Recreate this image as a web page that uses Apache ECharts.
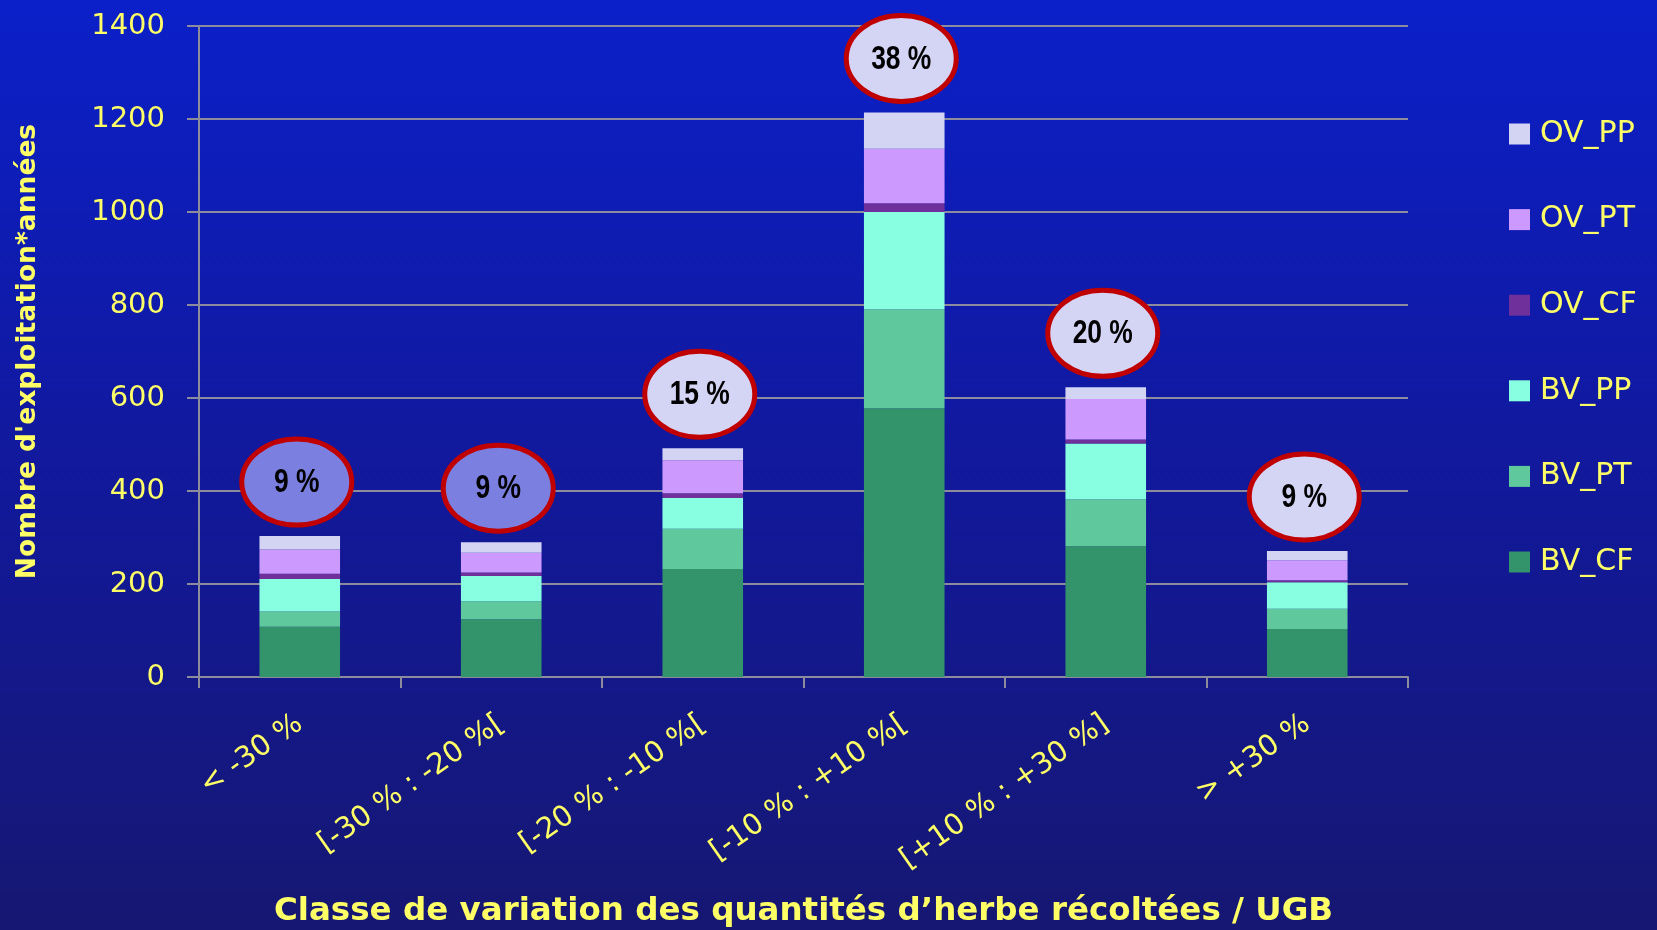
<!DOCTYPE html>
<html>
<head>
<meta charset="utf-8">
<script src="https://cdn.jsdelivr.net/npm/echarts@6/dist/echarts.min.js"></script>
<style>
html,body{margin:0;padding:0;width:1657px;height:930px;overflow:hidden;}
#chart{width:1657px;height:930px;}
</style>
</head>
<body>
<div id="chart"></div>
<script>
// ---- data ----
const categories = ['< -30 %', '[-30 % : -20 %[', '[-20 % : -10 %[', '[-10 % : +10 %[', '[+10 % : +30 %]', '> +30 %'];
const BV_CF = [108, 124, 232, 578, 281, 103];
const BV_PT = [33, 39, 87, 213, 101, 44];
const BV_PP = [70, 54, 66, 209, 120, 57];
const OV_CF = [11, 8, 10, 19, 9, 4];
const OV_PT = [52, 42, 71, 117, 87, 43];
const OV_PP = [29, 23, 26, 78, 25, 20];
const shareLabels = ['9 %', '9 %', '15 %', '38 %', '20 %', '9 %'];
const yTicks = [0, 200, 400, 600, 800, 1000, 1200, 1400];

const seriesDefs = [
  {name: 'BV_CF', data: BV_CF, color: '#33936b'},
  {name: 'BV_PT', data: BV_PT, color: '#5fc89d'},
  {name: 'BV_PP', data: BV_PP, color: '#88ffe0'},
  {name: 'OV_CF', data: OV_CF, color: '#70309c'},
  {name: 'OV_PT', data: OV_PT, color: '#cc99ff'},
  {name: 'OV_PP', data: OV_PP, color: '#d3d3f3'}
];
const totals = categories.map((c, i) => seriesDefs.reduce((s, d) => s + d.data[i], 0));
const balloonFill = ['#7b7fe0', '#7b7fe0', '#d4d4f4', '#d4d4f4', '#d4d4f4', '#d4d4f4'];

const yellow = '#ffff66';
const font = '"Comic Sans MS", "DejaVu Sans", sans-serif';

const chart = echarts.init(document.getElementById('chart'), null, {renderer: 'canvas'});

const series = seriesDefs.map(d => ({
  name: d.name,
  type: 'bar',
  stack: 'total',
  barWidth: '40%',
  data: d.data,
  itemStyle: {color: d.color},
  emphasis: {disabled: true}
}));

series.push({
  name: 'share',
  type: 'custom',
  clip: false,
  z: 5,
  data: totals.map((t, i) => [i, t]),
  encode: {x: 0, y: 1},
  renderItem: function (params, api) {
    const p = api.coord([api.value(0), api.value(1)]);
    const cx = p[0] - 3, cy = p[1] - 54;
    const i = params.dataIndex;
    return {
      type: 'group',
      children: [
        {
          type: 'ellipse',
          shape: {cx: cx, cy: cy, rx: 55, ry: 43},
          style: {fill: balloonFill[i], stroke: '#c00000', lineWidth: 5}
        },
        {
          type: 'text',
          x: cx, y: cy + 1,
          scaleX: 0.8,
          style: {
            text: shareLabels[i],
            x: 0, y: 0,
            fill: '#000',
            align: 'center',
            verticalAlign: 'middle',
            font: 'bold 33px "Liberation Sans", Arial, sans-serif'
          }
        }
      ]
    };
  },
  tooltip: {show: false}
});

const option = {
  backgroundColor: {
    type: 'linear', x: 0, y: 0, x2: 0, y2: 1,
    colorStops: [
      {offset: 0, color: '#0b20c9'},
      {offset: 0.45, color: '#1119a0'},
      {offset: 1, color: '#161772'}
    ]
  },
  animation: false,
  grid: {left: 199, right: 249, top: 26, bottom: 253, containLabel: false, outerBoundsMode: 'none'},
  legend: {
    orient: 'vertical',
    left: 1509,
    top: 119,
    padding: 0,
    itemWidth: 21,
    itemHeight: 21,
    itemGap: 55.6,
    icon: 'rect',
    data: ['OV_PP', 'OV_PT', 'OV_CF', 'BV_PP', 'BV_PT', 'BV_CF'],
    textStyle: {color: yellow, fontFamily: font, fontSize: 30, lineHeight: 30, padding: [0, 0, 0, 5]}
  },
  xAxis: {
    type: 'category',
    data: categories,
    name: 'Classe de variation des quantités d\u2019herbe récoltées / UGB',
    nameLocation: 'middle',
    nameGap: 218,
    nameTextStyle: {color: yellow, fontFamily: font, fontWeight: 'bold', fontSize: 32.5},
    axisLine: {lineStyle: {color: '#8c8c9c', width: 2}},
    axisTick: {show: true, length: 11, lineStyle: {color: '#8c8c9c', width: 2}},
    axisLabel: {color: yellow, fontFamily: font, fontSize: 29, rotate: 35, margin: 44, interval: 0}
  },
  yAxis: {
    type: 'value',
    min: 0,
    max: 1400,
    interval: 200,
    name: 'Nombre d\'exploitation*années',
    nameLocation: 'middle',
    nameRotate: 90,
    nameGap: 157,
    nameTextStyle: {color: yellow, fontFamily: font, fontWeight: 'bold', fontSize: 26.5},
    axisLine: {show: true, lineStyle: {color: '#8c8c9c', width: 2}},
    axisTick: {show: true, length: 12, lineStyle: {color: '#8c8c9c', width: 2}},
    splitLine: {show: true, lineStyle: {color: '#8c8c9c', width: 2}},
    axisLabel: {
      color: yellow, fontFamily: font, fontSize: 29, margin: 34,
      formatter: v => (yTicks.indexOf(v) >= 0 ? String(v) : '')
    }
  },
  series: series
};
chart.setOption(option);
</script>
</body>
</html>
